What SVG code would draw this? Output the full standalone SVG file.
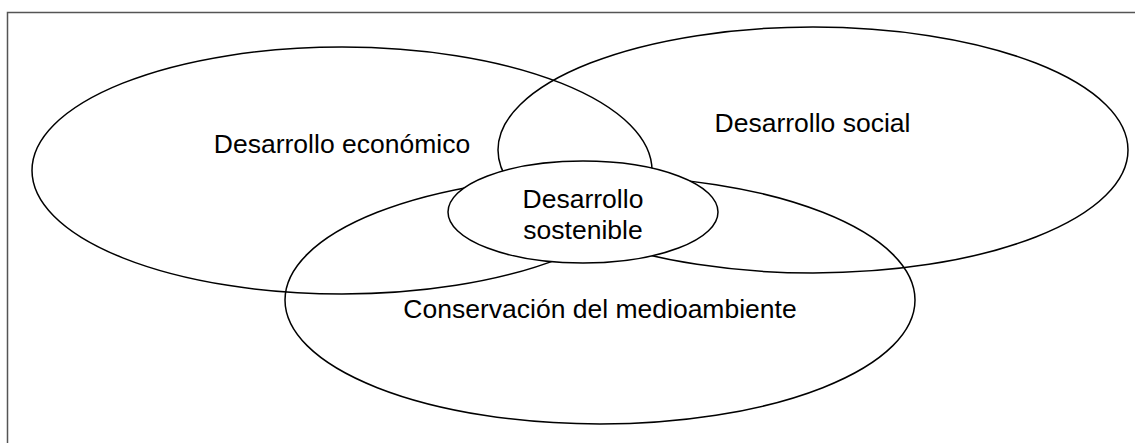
<svg xmlns="http://www.w3.org/2000/svg" width="1135" height="443" viewBox="0 0 1135 443">
  <style>
    .ring { fill: none; stroke: #000; stroke-width: 1.5; }
    .core { fill: #fff; stroke: #000; stroke-width: 1.5; }
    .lbl { font-family: "Liberation Sans", Arial, sans-serif; font-size: 26.5px; fill: #000; text-anchor: middle; }
  </style>
  <rect x="0" y="0" width="1135" height="443" fill="#fff"/>
  <rect id="frame" x="7.5" y="12.5" width="1140" height="450" fill="none" stroke="#555" stroke-width="1.5"/>
  <g id="economico">
    <ellipse class="ring" cx="342" cy="170.5" rx="310" ry="123.5"/>
    <text class="lbl" x="342" y="153">Desarrollo económico</text>
  </g>
  <g id="social">
    <ellipse class="ring" cx="813" cy="150" rx="315" ry="123"/>
    <text class="lbl" x="812.5" y="132">Desarrollo social</text>
  </g>
  <g id="medioambiente">
    <ellipse class="ring" cx="600" cy="300" rx="315" ry="124"/>
    <text class="lbl" x="600" y="318">Conservación del medioambiente</text>
  </g>
  <g id="sostenible">
    <ellipse class="core" cx="583" cy="212" rx="135" ry="51"/>
    <text class="lbl" x="583" y="208">Desarrollo</text>
    <text class="lbl" x="583" y="239">sostenible</text>
  </g>
</svg>
